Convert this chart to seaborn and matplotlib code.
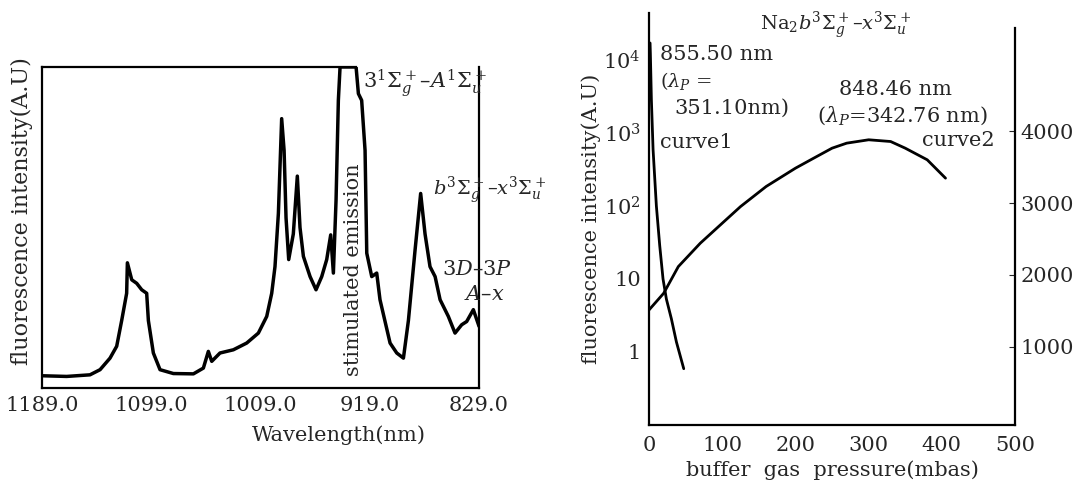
import numpy as np
import pandas as pd
import matplotlib
matplotlib.use("Agg")
import matplotlib.pyplot as plt
import seaborn as sns

# Left panel: emission spectrum (intensity in arbitrary units, 0-100 = axes height)
wavelength = [1187.9, 1168.7, 1149.5, 1141.2, 1133.0, 1127.5, 1123.4, 1119.3, 1118.7, 1115.1,
              1111.0, 1106.9, 1102.8, 1101.4, 1097.3, 1091.8, 1080.8, 1064.3, 1056.1, 1052.0,
              1049.2, 1042.4, 1031.4, 1020.4, 1010.8, 1003.9, 999.8, 997.1, 994.3, 991.6,
              989.6, 988.0, 985.8, 982.0, 978.7, 976.5, 973.7, 968.2, 963.3, 958.6,
              954.5, 951.2, 949.0, 946.8, 944.9, 943.5, 930.3, 928.4, 925.7, 922.9,
              921.5, 917.4, 913.3, 910.6, 902.3, 896.8, 891.3, 887.2, 881.7, 877.1,
              873.5, 869.4, 865.2, 861.1, 854.3, 848.8, 843.3, 839.2, 833.7, 829.0]
intensity = [3.8, 3.6, 4.1, 5.7, 9.3, 13.0, 21.0, 29.5, 39.0, 33.7,
             32.6, 30.6, 29.5, 21.0, 10.9, 5.7, 4.5, 4.4, 6.2, 11.4,
             8.3, 10.9, 11.9, 14.0, 17.1, 22.3, 29.5, 37.8, 54.4, 83.9,
             74.0, 53.0, 40.0, 48.0, 66.0, 50.0, 41.0, 34.7, 30.6, 34.7,
             40.0, 47.7, 35.8, 58.5, 89.6, 100.0, 100.0, 91.7, 89.6, 74.0,
             42.0, 34.7, 35.8, 27.5, 14.0, 10.9, 9.3, 21.0, 43.0, 60.6,
             48.0, 37.8, 34.7, 27.5, 22.3, 17.1, 19.7, 20.7, 24.4, 19.2]
wl_ticks = [1189.0, 1099.0, 1009.0, 919.0, 829.0]

# Right panel: curve 1 (log axis) and curve 2 (linear axis)
p1 = [1.4, 1.8, 3.2, 5.5, 10.0, 14.6, 19.1, 23.7, 30.5, 37.4, 47.4]
curve1 = [17000, 12300, 2840, 590, 100, 28.5, 10.0, 5.3, 2.85, 1.37, 0.59]
p2 = [0, 20, 40, 70, 100, 125, 160, 200, 225, 250, 270, 300, 330, 350, 380, 405]
curve2 = [1512, 1744, 2116, 2442, 2721, 2953, 3233, 3488, 3628, 3767, 3837, 3884,
          3860, 3767, 3605, 3349]
pressure_ticks = [0, 100, 200, 300, 400, 500]
log_ticks = [1, 10, 100, 1000, 10000]
log_labels = ["1", "10", "10$^2$", "10$^3$", "10$^4$"]
lin_ticks = [1000, 2000, 3000, 4000]

sns.set_style("white")
plt.rcParams["font.family"] = ["DejaVu Serif"]
plt.rcParams["mathtext.fontset"] = "dejavuserif"

fig = plt.figure(figsize=(10.89, 4.91), dpi=100)

# ---------------- left panel ----------------
ax1 = fig.add_axes([0.0386, 0.2098, 0.4013, 0.6538])
spec = pd.DataFrame({"wl": wavelength, "I": intensity})
sns.lineplot(data=spec, x="wl", y="I", ax=ax1, color="black", lw=2.5)
ax1.set_xlim(1189, 829)
ax1.set_ylim(0, 100)
ax1.set_xticks(wl_ticks)
ax1.set_xticklabels([f"{v:.1f}" for v in wl_ticks], fontsize=15)
ax1.set_yticks([])
ax1.tick_params(axis="x", length=0, pad=6)
for s in ax1.spines.values():
    s.set_color("black")
    s.set_linewidth(1.6)
ax1.spines["top"].set_bounds(1189, 930)
ax1.set_xlabel("Wavelength(nm)", fontsize=15)
ax1.xaxis.set_label_coords(0.68, -0.115)
ax1.set_ylabel("fluorescence intensity(A.U)", fontsize=16)
ax1.yaxis.set_label_coords(-0.02, 0.55)

ax1.text(0.735, 0.95, r"$3^1\Sigma_g^+$–$A^1\Sigma_u^+$", transform=ax1.transAxes,
         fontsize=15, ha="left", va="center")
ax1.text(0.712, 0.37, "stimulated emission", transform=ax1.transAxes,
         fontsize=15, rotation=90, ha="center", va="center")
ax1.text(0.895, 0.615, r"$b^3\Sigma_g^+$–$x^3\Sigma_u^+$", transform=ax1.transAxes,
         fontsize=14, ha="left", va="center")
ax1.text(0.915, 0.37, r"3$D$–3$P$", transform=ax1.transAxes,
         fontsize=15, ha="left", va="center")
ax1.text(0.965, 0.29, r"$A$–$x$", transform=ax1.transAxes,
         fontsize=15, ha="left", va="center")

# ---------------- right panel ----------------
ax2 = fig.add_axes([0.596, 0.1344, 0.3361, 0.839])
c1 = pd.DataFrame({"p": p1, "v": curve1})
sns.lineplot(data=c1, x="p", y="v", ax=ax2, color="black", lw=2.0)
ax2.set_yscale("log")
ax2.set_ylim(0.1, 10 ** 4.64)
ax2.set_xlim(0, 500)
ax2.set_yticks(log_ticks)
ax2.set_yticklabels(log_labels, fontsize=15)
ax2.minorticks_off()
ax2.set_xticks(pressure_ticks)
ax2.set_xticklabels([str(v) for v in pressure_ticks], fontsize=15)
ax2.tick_params(axis="x", direction="in", length=4, pad=8)
ax2.tick_params(axis="y", direction="in", length=0, pad=6)
for s in ax2.spines.values():
    s.set_color("black")
    s.set_linewidth(1.6)
ax2.spines["top"].set_visible(False)
ax2.spines["right"].set_visible(False)
ax2.set_xlabel("buffer  gas  pressure(mbas)", fontsize=15)
ax2.xaxis.set_label_coords(0.5, -0.085)
ax2.set_ylabel("fluorescence intensity(A.U)", fontsize=15)
ax2.yaxis.set_label_coords(-0.13, 0.5)

ax3 = ax2.twinx()
c2 = pd.DataFrame({"p": p2, "v": curve2})
sns.lineplot(data=c2, x="p", y="v", ax=ax3, color="black", lw=2.0)
ax3.set_ylim(-93, 5651)
ax3.set_yticks(lin_ticks)
ax3.set_yticklabels([str(v) for v in lin_ticks], fontsize=15)
ax3.set_ylabel("")
ax3.tick_params(axis="y", direction="in", length=4, pad=4)
for s in ax3.spines.values():
    s.set_visible(False)
ax3.spines["right"].set_visible(True)
ax3.spines["right"].set_color("black")
ax3.spines["right"].set_linewidth(1.6)
ax3.spines["right"].set_bounds(-93, 5442)

ax2.text(0.51, 0.97, r"Na$_2$$b^3\Sigma_g^+$–$x^3\Sigma_u^+$", transform=ax2.transAxes,
         fontsize=14, ha="center", va="center")
ax2.text(0.03, 0.90, "855.50 nm", transform=ax2.transAxes, fontsize=15, va="center")
ax2.text(0.03, 0.835, r"($\lambda_P$ =", transform=ax2.transAxes, fontsize=14, va="center")
ax2.text(0.07, 0.77, "351.10nm)", transform=ax2.transAxes, fontsize=15, va="center")
ax2.text(0.52, 0.815, "848.46 nm", transform=ax2.transAxes, fontsize=15, va="center")
ax2.text(0.46, 0.75, r"($\lambda_P$=342.76 nm)", transform=ax2.transAxes, fontsize=15, va="center")
ax2.text(0.03, 0.685, "curve1", transform=ax2.transAxes, fontsize=15, va="center")
ax2.text(0.745, 0.69, "curve2", transform=ax2.transAxes, fontsize=15, va="center")

fig.savefig("out.png", dpi=100)
